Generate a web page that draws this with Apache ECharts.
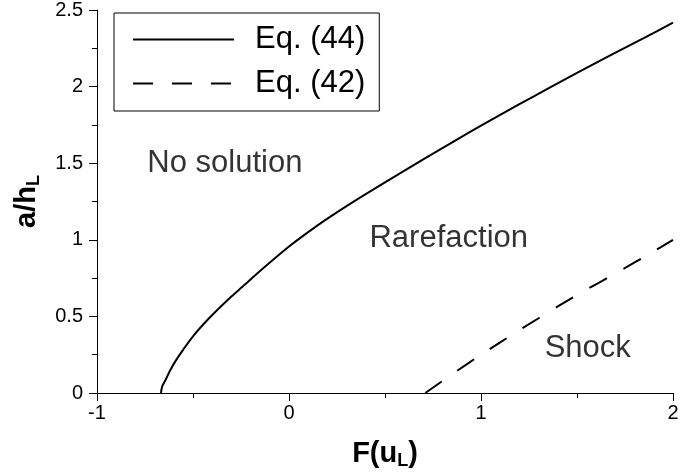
<!DOCTYPE html>
<html>
<head>
<meta charset="utf-8">
<script src="https://cdn.jsdelivr.net/npm/echarts@6/dist/echarts.min.js"></script>
<style>html,body{margin:0;padding:0;background:#fff;}#c{width:680px;height:472px;}</style>
</head>
<body>
<div id="c"></div>
<script>
// Eq. (44) curve points [F(uL), a/hL]
var eq44X = [-0.667,-0.66,-0.645,-0.62,-0.593,-0.55,-0.497,-0.43,-0.367,-0.3,-0.246,-0.124,0,0.1,0.2,0.353,0.5,0.699,0.85,1.0,1.2,1.341,1.5,1.688,1.85,2.0];
var eq44Y = [0,0.045,0.08,0.145,0.205,0.285,0.375,0.47,0.55,0.63,0.69,0.825,0.956,1.05,1.138,1.262,1.375,1.525,1.636,1.745,1.885,1.982,2.089,2.213,2.318,2.418];
// Eq. (42) curve points
var eq42X = [0.71,0.87,1.0,1.2,1.4,1.55,1.7,1.9,2.0];
var eq42Y = [0,0.14,0.25,0.41,0.565,0.675,0.78,0.925,1.0];
var seriesNames = ['Eq. (44)','Eq. (42)'];
// region labels and their anchor points (data coords)
var regionNames = ['No solution','Rarefaction','Shock'];
var regionX = [-0.334,0.832,1.556];
var regionY = [1.496,1.007,0.289];
var xTicks = ['-1','0','1','2'];
var yTicks = ['0','0.5','1','1.5','2','2.5'];

function zip(a,b){return a.map(function(v,i){return [v,b[i]];});}
var FONT = '"Liberation Sans", Arial, sans-serif';
var chart = echarts.init(document.getElementById('c'), null, {renderer:'canvas'});
chart.setOption({
  animation:false,
  backgroundColor:'#ffffff',
  grid:{left:97,right:7,top:10,bottom:79,containLabel:false,outerBoundsMode:'none'},
  legend:{
    data:seriesNames,
    orient:'vertical',
    left:114, top:13,
    padding:[11,14,12,18],
    itemGap:13,
    itemWidth:101, itemHeight:20,
    borderColor:'#000', borderWidth:1,
    itemStyle:{opacity:0},
    textStyle:{fontFamily:FONT,fontSize:31,color:'#000',padding:[0,0,0,16]},
    selectedMode:false
  },
  xAxis:{
    type:'value', min:-1, max:2, interval:1,
    name:'F(u{s|L})', nameLocation:'middle', nameGap:45,
    nameTextStyle:{fontFamily:FONT,fontSize:29,fontWeight:'bold',color:'#000',
      rich:{s:{fontFamily:FONT,fontSize:18,fontWeight:'bold',color:'#000',verticalAlign:'bottom',padding:[14,0,0,0]}}},
    axisLine:{onZero:false,lineStyle:{color:'#000',width:1}},
    axisTick:{show:true,inside:false,length:8,lineStyle:{color:'#000'}},
    minorTick:{show:true,splitNumber:2,length:5,lineStyle:{color:'#000'}},
    splitLine:{show:false},
    axisLabel:{fontFamily:FONT,fontSize:20,color:'#000',margin:10,
      formatter:function(v){var i=Math.round(v+1);return xTicks[i]!==undefined?xTicks[i]:'';}}
  },
  yAxis:{
    type:'value', min:0, max:2.5, interval:0.5,
    name:'a/h{s|L}', nameLocation:'middle', nameGap:54, nameRotate:90,
    nameTextStyle:{fontFamily:FONT,fontSize:29,fontWeight:'bold',color:'#000',
      rich:{s:{fontFamily:FONT,fontSize:18,fontWeight:'bold',color:'#000',verticalAlign:'bottom',padding:[14,0,0,0]}}},
    axisLine:{show:true,onZero:false,lineStyle:{color:'#000',width:1}},
    axisTick:{show:true,inside:false,length:8,lineStyle:{color:'#000'}},
    minorTick:{show:true,splitNumber:2,length:5,lineStyle:{color:'#000'}},
    splitLine:{show:false},
    axisLabel:{fontFamily:FONT,fontSize:20,color:'#000',margin:14,
      formatter:function(v){var i=Math.round(v*2);return yTicks[i]!==undefined?yTicks[i]:'';}}
  },
  series:[
    {name:seriesNames[0],type:'line',data:zip(eq44X,eq44Y),symbol:'none',smooth:0.3,
      lineStyle:{color:'#000',width:2,type:'solid'},itemStyle:{color:'#000'}},
    {name:seriesNames[1],type:'line',data:zip(eq42X,eq42Y),symbol:'none',smooth:0.3,
      lineStyle:{color:'#000',width:2,type:[20,19]},itemStyle:{color:'#000'}},
    {name:'regions',type:'scatter',symbolSize:0,silent:true,
      data:regionNames.map(function(n,i){return {name:n,value:[regionX[i],regionY[i]]};}),
      label:{show:true,position:'inside',formatter:'{b}',fontFamily:FONT,fontSize:31,color:'#000'}}
  ]
});
</script>
</body>
</html>
